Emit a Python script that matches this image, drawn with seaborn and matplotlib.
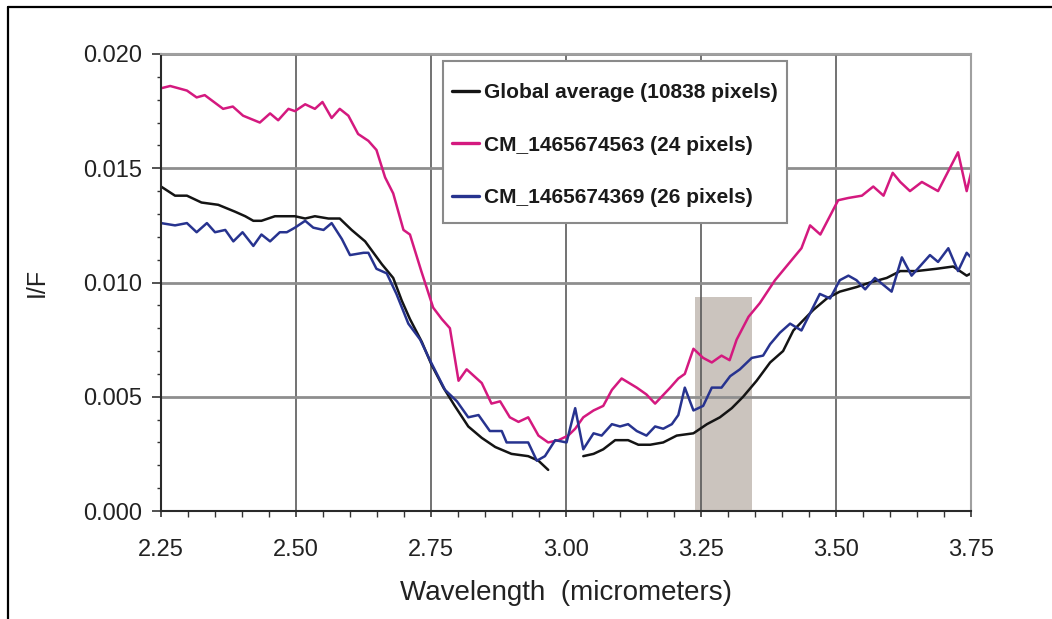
import numpy as np
import pandas as pd
import seaborn as sns
import matplotlib
matplotlib.use("Agg")
import matplotlib.pyplot as plt
from matplotlib.patches import Rectangle
from matplotlib.lines import Line2D
from matplotlib.ticker import MultipleLocator

# ---------------- data ----------------
series_names = ["Global average (10838 pixels)",
                "CM_1465674563 (24 pixels)",
                "CM_1465674369 (26 pixels)"]

wl_global_a = [2.250, 2.276, 2.298, 2.325, 2.356, 2.387, 2.406, 2.421, 2.436, 2.461,
               2.498, 2.517, 2.535, 2.560, 2.581, 2.603, 2.628, 2.659, 2.680, 2.696,
               2.711, 2.733, 2.751, 2.773, 2.794, 2.819, 2.844, 2.869, 2.899, 2.930,
               2.949, 2.967]
iof_global_a = [0.0142, 0.0138, 0.0138, 0.0135, 0.0134, 0.0131, 0.0129, 0.0127, 0.0127, 0.0129,
                0.0129, 0.0128, 0.0129, 0.0128, 0.0128, 0.0123, 0.0118, 0.0108, 0.0102, 0.0092,
                0.0084, 0.0074, 0.0064, 0.0054, 0.0046, 0.0037, 0.0032, 0.0028, 0.0025, 0.0024,
                0.0022, 0.0018]
wl_global_b = [3.032, 3.051, 3.069, 3.091, 3.115, 3.134, 3.156, 3.180, 3.205, 3.236,
               3.261, 3.285, 3.307, 3.328, 3.353, 3.378, 3.402, 3.421, 3.458, 3.483,
               3.507, 3.538, 3.563, 3.594, 3.619, 3.649, 3.686, 3.717, 3.742, 3.750]
iof_global_b = [0.0024, 0.0025, 0.0027, 0.0031, 0.0031, 0.0029, 0.0029, 0.0030, 0.0033, 0.0034,
                0.0038, 0.0041, 0.0045, 0.0050, 0.0057, 0.0065, 0.0070, 0.0079, 0.0088, 0.0093,
                0.0096, 0.0098, 0.0100, 0.0102, 0.0105, 0.0105, 0.0106, 0.0107, 0.0103, 0.0104]

wl_pink = [2.250, 2.267, 2.298, 2.316, 2.331, 2.365, 2.383, 2.402, 2.433, 2.452,
           2.467, 2.486, 2.498, 2.517, 2.535, 2.549, 2.566, 2.581, 2.597, 2.615,
           2.634, 2.649, 2.665, 2.680, 2.699, 2.711, 2.732, 2.754, 2.770, 2.785,
           2.801, 2.816, 2.844, 2.862, 2.878, 2.896, 2.912, 2.930, 2.949, 2.967,
           2.986, 3.004, 3.017, 3.032, 3.051, 3.069, 3.085, 3.103, 3.131, 3.149,
           3.165, 3.177, 3.193, 3.208, 3.220, 3.236, 3.254, 3.270, 3.288, 3.303,
           3.316, 3.338, 3.359, 3.387, 3.415, 3.436, 3.452, 3.471, 3.504, 3.523,
           3.548, 3.569, 3.588, 3.605, 3.619, 3.637, 3.659, 3.689, 3.702, 3.726,
           3.742, 3.750]
iof_pink = [0.0185, 0.0186, 0.0184, 0.0181, 0.0182, 0.0176, 0.0177, 0.0173, 0.0170, 0.0174,
            0.0171, 0.0176, 0.0175, 0.0178, 0.0176, 0.0179, 0.0172, 0.0176, 0.0173, 0.0165,
            0.0162, 0.0158, 0.0146, 0.0139, 0.0123, 0.0121, 0.0105, 0.0089, 0.0084, 0.0080,
            0.0057, 0.0062, 0.0056, 0.0047, 0.0048, 0.0041, 0.0039, 0.0041, 0.0033, 0.0030,
            0.0031, 0.0033, 0.0036, 0.0041, 0.0044, 0.0046, 0.0053, 0.0058, 0.0054, 0.0051,
            0.0047, 0.0050, 0.0054, 0.0058, 0.0060, 0.0071, 0.0067, 0.0065, 0.0068, 0.0066,
            0.0075, 0.0085, 0.0091, 0.0101, 0.0109, 0.0115, 0.0125, 0.0121, 0.0136, 0.0137,
            0.0138, 0.0142, 0.0138, 0.0148, 0.0144, 0.0140, 0.0144, 0.0140, 0.0146, 0.0157,
            0.0140, 0.0148]

wl_blue = [2.250, 2.276, 2.298, 2.316, 2.335, 2.350, 2.369, 2.384, 2.401, 2.421,
           2.436, 2.452, 2.470, 2.483, 2.498, 2.517, 2.532, 2.551, 2.566, 2.585,
           2.600, 2.625, 2.634, 2.649, 2.668, 2.686, 2.708, 2.730, 2.748, 2.776,
           2.798, 2.819, 2.838, 2.859, 2.881, 2.890, 2.912, 2.930, 2.946, 2.961,
           2.980, 3.001, 3.017, 3.032, 3.051, 3.066, 3.085, 3.100, 3.115, 3.131,
           3.149, 3.165, 3.180, 3.196, 3.208, 3.220, 3.236, 3.254, 3.270, 3.288,
           3.304, 3.322, 3.344, 3.365, 3.378, 3.396, 3.415, 3.436, 3.470, 3.489,
           3.507, 3.523, 3.538, 3.554, 3.572, 3.603, 3.622, 3.640, 3.674, 3.689,
           3.708, 3.726, 3.742, 3.750]
iof_blue = [0.0126, 0.0125, 0.0126, 0.0122, 0.0126, 0.0122, 0.0123, 0.0118, 0.0122, 0.0116,
            0.0121, 0.0118, 0.0122, 0.0122, 0.0124, 0.0127, 0.0124, 0.0123, 0.0126, 0.0119,
            0.0112, 0.0113, 0.0113, 0.0106, 0.0104, 0.0095, 0.0082, 0.0075, 0.0066, 0.0053,
            0.0048, 0.0041, 0.0042, 0.0035, 0.0035, 0.0030, 0.0030, 0.0030, 0.0022, 0.0024,
            0.0031, 0.0030, 0.0045, 0.0027, 0.0034, 0.0033, 0.0038, 0.0037, 0.0038, 0.0035,
            0.0033, 0.0037, 0.0036, 0.0038, 0.0042, 0.0054, 0.0044, 0.0046, 0.0054, 0.0054,
            0.0059, 0.0062, 0.0067, 0.0068, 0.0073, 0.0078, 0.0082, 0.0079, 0.0095, 0.0093,
            0.0101, 0.0103, 0.0101, 0.0097, 0.0102, 0.0096, 0.0111, 0.0103, 0.0112, 0.0109,
            0.0115, 0.0105, 0.0113, 0.0111]

# shaded band (wavelength range and top value)
band_lo, band_hi, band_top = 3.238, 3.345, 0.00935

x_ticks = [2.25, 2.50, 2.75, 3.00, 3.25, 3.50, 3.75]
y_ticks = [0.000, 0.005, 0.010, 0.015, 0.020]

col_black, col_pink, col_blue = "#141414", "#d4197f", "#27338f"

# ---------------- plot ----------------
sns.set_theme(style="white")
plt.rcParams["font.family"] = ["Liberation Sans", "DejaVu Sans"]

fig = plt.figure(figsize=(10.52, 6.19), dpi=100)
ax = fig.add_axes([161/1052, 1 - 511/619, 810/1052, 457/619])

ax.set_axisbelow(True)
ax.fill_between([band_lo, band_hi], 0, band_top, color="#cbc4be", lw=0, zorder=0.3)

lw = 1.8
sns.lineplot(x=wl_global_a, y=iof_global_a, ax=ax, color=col_black, lw=lw,
             label=series_names[0], sort=False)
sns.lineplot(x=wl_global_b, y=iof_global_b, ax=ax, color=col_black, lw=lw,
             sort=False, legend=False)
sns.lineplot(x=wl_pink, y=iof_pink, ax=ax, color=col_pink, lw=lw,
             label=series_names[1], sort=False)
sns.lineplot(x=wl_blue, y=iof_blue, ax=ax, color=col_blue, lw=lw,
             label=series_names[2], sort=False)

ax.set_xlim(x_ticks[0], x_ticks[-1])
ax.set_ylim(y_ticks[0], y_ticks[-1])
ax.set_xticks(x_ticks)
ax.set_xticklabels([f"{v:.2f}" for v in x_ticks])
ax.set_yticks(y_ticks)
ax.set_yticklabels([f"{v:.3f}" for v in y_ticks])
ax.xaxis.set_minor_locator(MultipleLocator(0.05))
ax.yaxis.set_minor_locator(MultipleLocator(0.001))

ax.grid(False)
ax.yaxis.grid(True, which="major", color="#8e8e8e", lw=2.0)
ax.xaxis.grid(True, which="major", color="#5a5a5a", lw=1.2)

for s in ["left", "bottom"]:
    ax.spines[s].set_color("#2a2a2a")
    ax.spines[s].set_linewidth(1.5)
for s in ["top", "right"]:
    ax.spines[s].set_color("#a0a0a0")
    ax.spines[s].set_linewidth(1.5)

ax.tick_params(axis="both", which="both", direction="out", bottom=True, left=True,
               color="#333333", labelcolor="#222222")
ax.tick_params(axis="y", which="major", length=6.5, width=1.2, pad=7, labelsize=17)
ax.tick_params(axis="y", which="minor", length=3, width=1.0)
ax.tick_params(axis="x", which="major", length=4, width=1.2, pad=16, labelsize=17)
ax.tick_params(axis="x", which="minor", length=4, width=1.0)

ax.set_xlabel("Wavelength  (micrometers)", fontsize=20, color="#222222")
ax.set_ylabel("I/F", fontsize=18, color="#222222")
ax.xaxis.label.set_va("center")
ax.xaxis.set_label_coords(0.5, -0.18)
ax.yaxis.label.set_va("center")
ax.yaxis.set_label_coords(-0.153, 0.5)

# legend box
ax.add_patch(Rectangle((0.348, 0.630), 0.425, 0.355, transform=ax.transAxes,
                       facecolor="white", edgecolor="#8a8a8a", lw=1.5, zorder=5))
handles, labels = ax.get_legend_handles_labels()
leg = ax.legend(handles, labels, loc="upper left", bbox_to_anchor=(0.359, 0.936),
                frameon=False, prop=dict(weight="bold", size=15),
                handlelength=1.3, handletextpad=0.25, labelspacing=1.6,
                borderpad=0, borderaxespad=0)
leg.set_zorder(6)
for t in leg.get_texts():
    t.set_color("#1a1a1a")
for h in leg.get_lines():
    h.set_linewidth(2.4)

# figure border (top and left)
fig.add_artist(Line2D([8/1052, 1], [1 - 7/619, 1 - 7/619], color="black", lw=1.6,
                      transform=fig.transFigure))
fig.add_artist(Line2D([8/1052, 8/1052], [0, 1 - 7/619], color="black", lw=1.6,
                      transform=fig.transFigure))

fig.savefig("out.png", dpi=100)
